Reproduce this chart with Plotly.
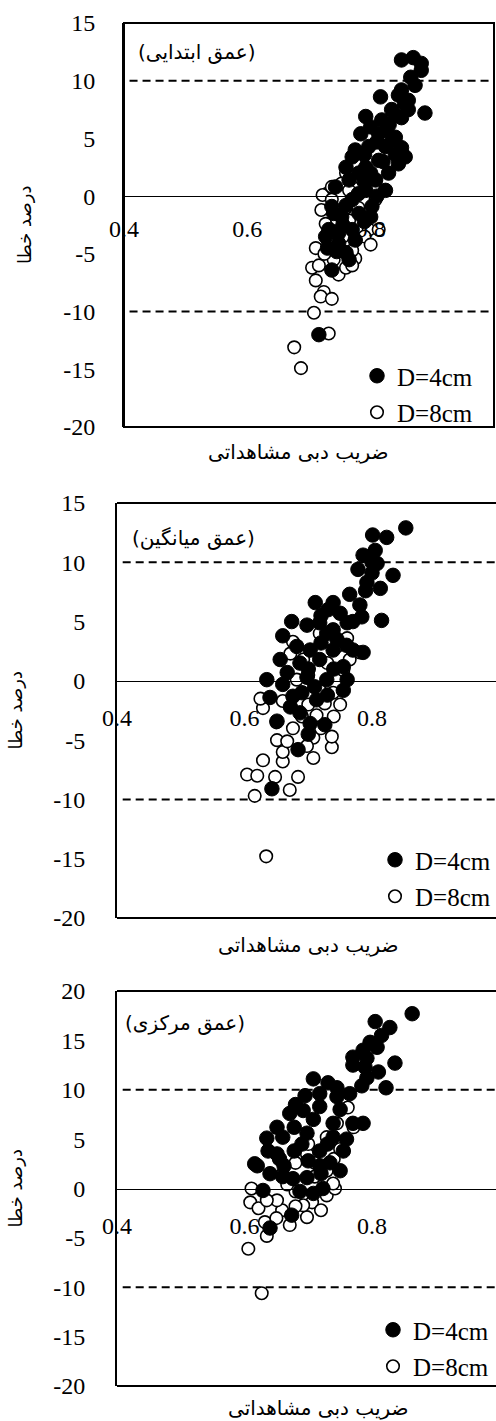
import plotly.graph_objects as go

W, H = 496, 1421

# ---------------- data ----------------
x_tick_vals = [0.4, 0.6, 0.8, 1.0]
x_tick_text = ["0.4", "0.6", "0.8", "1"]
y_ticks_12 = [-20, -15, -10, -5, 0, 5, 10, 15]
y_ticks_3 = [-20, -15, -10, -5, 0, 5, 10, 15, 20]

series_names = ["D=4cm", "D=8cm"]
panel_titles = ["(عمق ابتدایی)", "(عمق میانگین)", "(عمق مرکزی)"]
x_title = "ضریب دبی مشاهداتی"
y_title = "درصد خطا"
limit_lines = [10, -10]

# Panel 1 (initial depth)
x1_4 = [0.850,0.869,0.882,0.882,0.872,0.816,0.845,0.861,0.888,0.792,0.818,0.834,0.861,0.784,0.813,
        0.826,0.840,0.775,0.797,0.824,0.850,0.856,0.845,0.770,0.792,0.813,0.829,0.760,0.781,0.808,
        0.824,0.765,0.743,0.792,0.770,0.737,0.753,0.781,0.802,0.732,0.748,0.770,0.737,0.716,0.760,
        0.748,0.727,
        0.800,0.830,0.850,0.855,0.840,0.820,0.800,0.790,0.780,0.760,0.755,0.740,0.790,0.775,0.745,
        0.765,0.835,0.810,0.790,0.810,0.800,0.850,0.865,0.840,0.730]
y1_4 = [11.8,12.0,11.5,10.9,9.6,8.6,8.75,8.3,7.2,6.9,6.6,7.5,7.5,5.4,5.4,
        5.7,5.1,4.0,4.3,4.3,4.2,3.4,2.8,3.4,2.5,3.1,2.0,2.5,2.0,1.4,
        0.5,1.4,0.8,0.5,-0.3,-0.9,-1.8,-1.5,-0.9,-2.9,-3.2,-2.9,-6.4,-12.0,-4.9,
        -4.1,-3.5,
        6.0,6.2,6.8,8.0,3.6,3.0,2.0,1.2,0.2,-0.8,-2.5,-1.5,-2.2,-3.8,-4.8,
        -5.5,4.8,4.7,3.6,0.0,-1.8,9.2,10.3,7.0,-4.5]
x1_8 = [0.711,0.705,0.716,0.711,0.724,0.719,0.737,0.708,0.732,0.676,0.687,0.748,0.760,0.775,0.770,
        0.797,0.813,0.775,0.729,0.722,0.737,0.808,0.808,0.727,0.765,0.737,0.753,0.824,0.720,0.730,
        0.745,0.760,0.780,0.790,0.755,0.740,0.725,0.765,0.785,0.800,0.770,0.760]
y1_8 = [-4.5,-6.2,-6.0,-7.3,-8.3,-8.7,-8.9,-10.1,-11.9,-13.1,-14.9,-6.8,-6.2,-5.4,-4.7,
        -2.9,-2.9,2.8,0.2,0.1,0.8,1.4,-0.3,-2.4,-2.1,-0.3,1.1,4.3,-1.2,-3.8,
        -2.0,-1.0,-1.0,-3.5,-3.5,-5.5,-5.0,0.5,1.5,-4.2,-6.0,2.0]

# Panel 2 (mean depth)
x2_4 = [0.853,0.801,0.823,0.805,0.786,0.808,0.778,0.800,0.833,0.792,0.813,0.765,0.781,0.784,0.815,
        0.711,0.739,0.731,0.750,0.674,0.698,0.718,0.761,0.739,0.729,0.682,0.703,0.739,0.786,0.770,
        0.656,0.687,0.718,0.755,0.667,0.635,0.698,0.729,0.761,0.640,0.651,0.684,0.643,0.726,0.703,
        0.687,0.676,0.755,0.713,0.672,
        0.800,0.790,0.770,0.745,0.720,0.700,0.740,0.710,0.660,0.690,0.730,0.700,0.720,0.760,0.660]
y2_4 = [12.9,12.3,12.1,11.0,10.6,9.9,9.4,9.1,8.9,8.3,7.8,7.3,6.4,5.4,5.1,
        6.6,6.6,6.0,5.7,5.0,4.7,4.9,4.9,4.3,4.0,2.9,2.6,2.6,2.4,2.6,
        1.8,1.5,1.8,1.2,0.7,0.1,0.3,0.1,0.1,-1.4,-3.4,-5.8,-9.1,-3.7,-3.6,
        -2.7,-1.3,-0.8,-1.6,-2.2,
        10.0,7.6,5.0,3.5,3.2,1.0,1.0,-0.5,-0.3,-1.0,-1.2,-4.5,5.5,3.0,3.8]
x2_8 = [0.629,0.604,0.620,0.648,0.684,0.616,0.671,0.634,0.660,0.660,0.651,0.667,0.708,0.737,0.737,
        0.708,0.698,0.629,0.660,0.726,0.739,0.713,0.676,0.676,0.761,0.781,0.765,0.755,0.718,0.692,
        0.745,0.682,0.718,0.672,0.625,
        0.690,0.700,0.650,0.740,0.720,0.750,0.700,0.730]
y2_8 = [-6.7,-7.9,-8.0,-8.1,-8.1,-9.7,-9.2,-14.8,-6.8,-6.0,-5.0,-5.1,-6.5,-5.6,-4.7,
        -4.8,-5.5,-2.3,-1.7,-1.9,-1.0,-2.9,-4.0,3.3,3.6,2.4,1.8,0.9,4.0,1.8,
        2.9,0.1,-0.8,2.3,-1.5,
        -3.0,-2.0,-3.5,-3.0,-4.0,-2.0,0.5,1.5]

# Panel 3 (central depth)
x3_4 = [0.863,0.805,0.828,0.815,0.797,0.808,0.786,0.770,0.792,0.836,0.770,0.789,0.810,0.792,0.822,
        0.784,0.708,0.731,0.745,0.695,0.718,0.765,0.745,0.671,0.692,0.718,0.786,0.770,0.651,0.678,
        0.708,0.739,0.635,0.660,0.698,0.739,0.616,0.637,0.651,0.678,0.718,0.755,0.620,0.640,0.629,
        0.674,0.640,0.723,0.698,0.676,0.662,0.718,0.734,0.687,0.708,
        0.750,0.730,0.700,0.660,0.760,0.690,0.720,0.750,0.680,0.655]
y3_4 = [17.7,16.9,16.3,15.5,14.8,14.3,14.0,13.3,13.2,12.7,12.5,12.3,11.8,11.2,10.2,
        10.4,11.1,10.7,10.2,9.4,9.6,9.6,9.3,7.6,7.9,8.3,6.6,6.6,6.2,6.2,
        7.0,6.6,5.1,5.2,5.6,5.2,2.5,3.8,3.5,3.8,3.8,3.8,2.3,1.5,-0.2,
        -2.7,-4.0,0.0,1.1,1.0,2.3,2.3,2.6,-0.3,-0.5,
        8.0,4.5,2.8,1.2,5.0,4.5,1.5,1.8,8.5,3.0]
x3_8 = [0.606,0.627,0.611,0.609,0.622,0.632,0.635,0.659,0.671,0.698,0.706,0.692,0.729,0.742,0.739,
        0.729,0.651,0.635,0.680,0.667,0.710,0.762,0.745,0.771,0.729,0.698,0.710,0.680,0.740,
        0.650,0.680,0.720,0.660,0.700,0.750]
y3_8 = [-6.1,-10.6,0.0,-1.4,-2.0,-3.4,-4.8,-2.2,-3.7,-2.9,-1.4,-1.7,-0.7,0.0,0.5,
        1.8,-1.2,-1.2,-0.3,0.4,1.2,8.2,6.6,6.2,5.2,3.5,2.6,2.6,3.0,
        -3.0,-1.8,-2.2,1.5,4.5,4.0]

# ---------------- layout helpers (pixel geometry) ----------------
def fx(p):
    return p / W

def fy(p):
    return 1 - p / H

panels = [
    dict(xs4=x1_4, ys4=y1_4, xs8=x1_8, ys8=y1_8, left=124, right=494, top=23, bottom=427,
         xmax=1.0, yr=[-20, 15], yt=y_ticks_12, box=True, title=panel_titles[0],
         tx=136, ty=52, yt_x=25, xt_x=298, xt_y=452, leg_x=478, leg_y=435, stand_x=11, stand_y=22),
    dict(xs4=x2_4, ys4=y2_4, xs8=x2_8, ys8=y2_8, left=117, right=496, top=503, bottom=918,
         xmax=0.4 + (496 - 117) / 637.5, yr=[-20, 15], yt=y_ticks_12, box=False, title=panel_titles[1],
         tx=130, ty=538, yt_x=15, xt_x=308, xt_y=945, leg_x=496, leg_y=919, stand_x=15, stand_y=25),
    dict(xs4=x3_4, ys4=y3_4, xs8=x3_8, ys8=y3_8, left=117, right=496, top=991, bottom=1386,
         xmax=0.4 + (496 - 117) / 637.5, yr=[-20, 20], yt=y_ticks_3, box=False, title=panel_titles[2],
         tx=123, ty=1023, yt_x=15, xt_x=318, xt_y=1408, leg_x=494, leg_y=1389, stand_x=16, stand_y=25),
]

serif = "Liberation Serif, Times New Roman, serif"
arabic = "DejaVu Sans, sans-serif"

fig = go.Figure()
annotations = []
shapes = []

for i, p in enumerate(panels):
    n = "" if i == 0 else str(i + 1)
    xa, ya = "x" + n, "y" + n
    leg = "legend" + n
    # hollow series first (drawn underneath), filled on top
    fig.add_trace(go.Scatter(
        x=p["xs8"], y=p["ys8"], mode="markers", name=series_names[1],
        xaxis=xa, yaxis=ya, legend=leg, legendgroup="b" + n, legendrank=2,
        marker=dict(symbol="circle", size=12.5, color="white", line=dict(color="black", width=1.6)),
        showlegend=True))
    fig.add_trace(go.Scatter(
        x=p["xs4"], y=p["ys4"], mode="markers", name=series_names[0],
        xaxis=xa, yaxis=ya, legend=leg, legendgroup="a" + n, legendrank=1,
        marker=dict(symbol="circle", size=14.5, color="black", line=dict(color="black", width=1)),
        showlegend=True))

    y0, y1 = p["yr"]
    dom_y = [fy(p["bottom"]), fy(p["top"])]
    zero_pos = dom_y[0] + (0 - y0) / (y1 - y0) * (dom_y[1] - dom_y[0])
    fig.layout["xaxis" + n] = dict(
        domain=[fx(p["left"]), fx(p["right"])], range=[0.4, p["xmax"]], automargin=False,
        anchor="free", position=zero_pos, showline=True, linecolor="black", linewidth=1.3,
        tickvals=x_tick_vals, ticktext=x_tick_text, ticks="", showgrid=False, zeroline=False,
        tickfont=dict(family=serif, size=24, color="black"), ticklabelstandoff=p["stand_x"])
    fig.layout["yaxis" + n] = dict(
        domain=dom_y, range=p["yr"], anchor=xa, automargin=False, showline=True,
        linecolor="black", linewidth=2, tickvals=p["yt"], ticktext=[str(v) for v in p["yt"]],
        ticks="", showgrid=False, zeroline=False,
        tickfont=dict(family=serif, size=24, color="black"), ticklabelstandoff=p["stand_y"])

    # frame
    if p["box"]:
        shapes.append(dict(type="rect", xref=xa + " domain", yref=ya + " domain",
                           x0=0, x1=1, y0=0, y1=1, line=dict(color="black", width=2), layer="above"))
    else:
        for yy in (0, 1):
            shapes.append(dict(type="line", xref=xa + " domain", yref=ya + " domain",
                               x0=0, x1=1, y0=yy, y1=yy, line=dict(color="black", width=2), layer="above"))
    for lv in limit_lines:
        shapes.append(dict(type="line", xref=xa + " domain", yref=ya, x0=0.015, x1=1, y0=lv, y1=lv,
                           line=dict(color="black", width=2, dash="8px,5px"), layer="below"))

    annotations.append(dict(text=p["title"], xref="paper", yref="paper", x=fx(p["tx"]), y=fy(p["ty"]),
                            xanchor="left", yanchor="middle", showarrow=False,
                            font=dict(family=arabic, size=20, color="black")))
    annotations.append(dict(text=y_title, xref="paper", yref="paper", x=fx(p["yt_x"]),
                            y=(dom_y[0] + dom_y[1]) / 2, textangle=-90, xanchor="center", yanchor="middle",
                            showarrow=False, font=dict(family=arabic, size=18, color="black")))
    annotations.append(dict(text=x_title, xref="paper", yref="paper", x=fx(p["xt_x"]), y=fy(p["xt_y"]),
                            xanchor="center", yanchor="middle", showarrow=False,
                            font=dict(family=arabic, size=20, color="black")))

    fig.layout[leg] = dict(x=fx(p["leg_x"]), y=fy(p["leg_y"]), xanchor="right", yanchor="bottom",
                           bgcolor="rgba(0,0,0,0)", traceorder="grouped", tracegroupgap=1,
                           itemwidth=30, font=dict(family=serif, size=25, color="black"))

fig.update_layout(width=W, height=H, margin=dict(l=0, r=0, t=0, b=0, autoexpand=False),
                  paper_bgcolor="white", plot_bgcolor="white",
                  annotations=annotations, shapes=shapes)

fig.write_html("out.html", config={"displayModeBar": False},
               post_script="document.body.style.margin='0';document.body.style.overflow='hidden';")
